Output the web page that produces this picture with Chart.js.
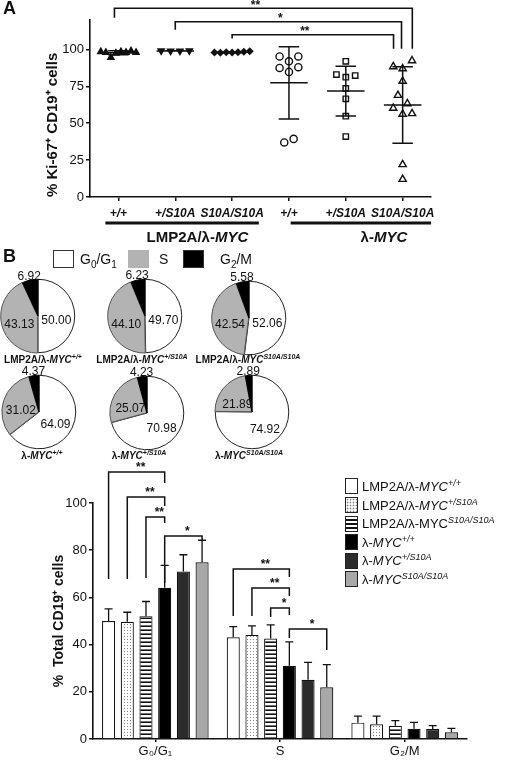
<!DOCTYPE html>
<html>
<head>
<meta charset="utf-8">
<script src="https://cdn.jsdelivr.net/npm/chart.js@4.4.0/dist/chart.umd.min.js"></script>
<style>
  body { margin: 0; background: #fff; font-family: "Liberation Sans", Arial, sans-serif; color: #111; }
  #wrap { position: relative; width: 520px; height: 761px; overflow: hidden; background: #fff; }
  canvas { position: absolute; }
  .abs { position: absolute; white-space: nowrap; }
  .panel { font-weight: bold; font-size: 18px; }
  .pielab { font-weight: bold; font-size: 10px; width: 130px; text-align: center; line-height: 12px; }
  .pielab sup { font-size: 7px; }
  .key { font-size: 14px; line-height: 17px; }
  .key .box { position: absolute; width: 19px; height: 16px; border: 1px solid #333; }
  .leg { font-size: 13px; line-height: 17px; }
  .leg .sw { display: inline-block; width: 11px; height: 14px; border: 1px solid #222; vertical-align: -3px; margin-right: 4px; }
  .leg sup { font-size: 9px; }
  .dots { background-color: #fff; background-image: radial-gradient(#777 0.7px, transparent 1.1px); background-size: 3px 3px; }
  .stripes { background-image: repeating-linear-gradient(to bottom, #fff 0 2.4px, #111 2.4px 4px); }
</style>
</head>
<body>
<div id="wrap">
  <canvas id="chartA" width="440" height="250" style="left:0;top:0"></canvas>
  <div class="abs panel" style="left:3px;top:-2px">A</div>
  <div class="abs panel" style="left:3px;top:246px">B</div>

  <div class="abs key" style="left:0;top:250px;width:300px;height:20px">
    <span class="box" style="left:53px;top:0;background:#fff"></span>
    <span class="abs" style="left:80px;top:1px">G<sub style="font-size:10px">0</sub>/G<sub style="font-size:10px">1</sub></span>
    <span class="box" style="left:128px;top:0;background:#b3b3b3;border-color:#b3b3b3"></span>
    <span class="abs" style="left:159px;top:1px">S</span>
    <span class="box" style="left:183px;top:0;background:#000"></span>
    <span class="abs" style="left:220px;top:1px">G<sub style="font-size:10px">2</sub>/M</span>
  </div>

  <canvas id="pie0" width="104" height="104" style="left:-14px;top:264px"></canvas>
  <canvas id="pie1" width="104" height="104" style="left:93px;top:264px"></canvas>
  <canvas id="pie2" width="104" height="104" style="left:197px;top:266px"></canvas>
  <canvas id="pie3" width="104" height="104" style="left:-13px;top:360px"></canvas>
  <canvas id="pie4" width="104" height="104" style="left:95px;top:361px"></canvas>
  <canvas id="pie5" width="104" height="104" style="left:200px;top:360px"></canvas>

  <div class="abs pielab" style="left:-22px;top:351px">LMP2A/λ-<i>MYC</i><sup><i>+/+</i></sup></div>
  <div class="abs pielab" style="left:77px;top:351px">LMP2A/λ-<i>MYC</i><sup><i>+/S10A</i></sup></div>
  <div class="abs pielab" style="left:183px;top:351px">LMP2A/λ-<i>MYC</i><sup><i>S10A/S10A</i></sup></div>
  <div class="abs pielab" style="left:-23px;top:447px">λ-<i>MYC</i><sup><i>+/+</i></sup></div>
  <div class="abs pielab" style="left:74px;top:447px">λ-<i>MYC</i><sup><i>+/S10A</i></sup></div>
  <div class="abs pielab" style="left:184px;top:447px">λ-<i>MYC</i><sup><i>S10A/S10A</i></sup></div>

  <canvas id="chartB" width="480" height="306" style="left:0;top:455px"></canvas>
  <div id="legendB" class="abs" style="left:345px;top:475px"></div>
</div>

<script>
// Panel A: % Ki-67+ among CD19+ cells, one array per genotype group
const groupTicks = ['+/+', '+/S10A', 'S10A/S10A', '+/+', '+/S10A', 'S10A/S10A'];
const yTicksA = [0, 25, 50, 75, 100];
const kiLmpWt = [98.5, 98, 94.6, 97.5, 98.5, 98, 99, 98];
const kiLmpHet = [99.2, 98.9, 99.0, 99.1];
const kiLmpHom = [98, 97.8, 98.2, 97.9, 98.1, 98.4, 98.8];
const kiMycWt = [95.3, 92, 95.3, 87.5, 84.8, 88, 37, 39.4];
const kiMycHet = [92, 83, 81.2, 82.3, 73.6, 66.6, 54.8, 41];
const kiMycHom = [88.4, 87, 92.4, 78.5, 69, 63.3, 60.2, 56.2, 56.6, 22, 12];
const kiSets = [kiLmpWt, kiLmpHet, kiLmpHom, kiMycWt, kiMycHet, kiMycHom];

// Panel B: cell cycle phases (mean %) and error (upper bar)
const phases = ['G₀/G₁', 'S', 'G₂/M'];
const g0g1 = [50.00, 49.70, 52.06, 64.09, 70.98, 74.92];
const sPhase = [43.13, 44.10, 42.54, 31.02, 25.07, 21.89];
const g2m = [6.92, 6.23, 5.58, 4.37, 4.23, 2.89];
const errG0 = [5.1, 4.0, 6.2, 9.5, 7.1, 9.3];
const errS = [4.5, 3.8, 5.8, 10.1, 7.4, 9.6];
const errG2 = [2.8, 3.5, 2.2, 2.7, 1.4, 1.6];
const yTicksB = [0, 20, 40, 60, 80, 100];
const genoBase = ['LMP2A/λ-', 'LMP2A/λ-', 'LMP2A/λ-', 'λ-', 'λ-', 'λ-'];
const genoAllele = ['+/+', '+/S10A', 'S10A/S10A', '+/+', '+/S10A', 'S10A/S10A'];

const fontFam = '"Liberation Sans", Arial, sans-serif';
Chart.defaults.font.family = fontFam;
Chart.defaults.color = '#111';

// spread points of similar value side by side, like a column scatter
function swarm(vals, gi) {
  const out = [];
  let i = 0;
  while (i < vals.length) {
    let j = i + 1;
    while (j < vals.length && Math.abs(vals[j] - vals[i]) <= 6) j++;
    const n = j - i;
    const step = Math.min(0.165, 0.62 / Math.max(n - 1, 1));
    for (let k = 0; k < n; k++) out.push({ x: gi + (k - (n - 1) / 2) * step, y: vals[i + k] });
    i = j;
  }
  return out;
}

const markerA = [
  { pointStyle: 'triangle', radius: 3.6, bg: '#111', rot: 0 },
  { pointStyle: 'triangle', radius: 3.6, bg: '#111', rot: 180 },
  { pointStyle: 'rectRot', radius: 3, bg: '#111', rot: 0 },
  { pointStyle: 'circle', radius: 3.6, bg: '#fff', rot: 0 },
  { pointStyle: 'rect', radius: 3.8, bg: '#fff', rot: 0 },
  { pointStyle: 'triangle', radius: 4.2, bg: '#fff', rot: 0 }
];

const bracketsA = [
  { a: -0.07, b: 5.17, top: 128, ya: 121.5, yb: 100.5, t: '**' },
  { a: 1, b: 4.98, top: 118.8, ya: 113.4, yb: 100.5, t: '*' },
  { a: 2, b: 4.84, top: 110, ya: 107.4, yb: 100.5, t: '**' }
];

function mixedText(ctx, parts, cx, y) {
  let w = 0;
  parts.forEach(p => { ctx.font = p[1]; w += ctx.measureText(p[0]).width; });
  let x = cx - w / 2;
  ctx.textAlign = 'left';
  parts.forEach(p => { ctx.font = p[1]; ctx.fillText(p[0], x, y); x += ctx.measureText(p[0]).width; });
}

const extrasA = {
  id: 'extrasA',
  afterDatasetsDraw(chart) {
    const { ctx, scales: { x, y } } = chart;
    ctx.save();
    ctx.strokeStyle = '#111';
    ctx.lineWidth = 1.5;
    kiSets.forEach((vals, gi) => {
      const m = vals.reduce((a, b) => a + b, 0) / vals.length;
      const sd = Math.sqrt(vals.reduce((a, b) => a + (b - m) ** 2, 0) / (vals.length - 1));
      const cx = x.getPixelForValue(gi);
      const hw = x.getPixelForValue(gi + 0.33) - cx;
      const cw = x.getPixelForValue(gi + 0.18) - cx;
      const yt = y.getPixelForValue(m + sd), yb = y.getPixelForValue(m - sd), ym = y.getPixelForValue(m);
      ctx.beginPath();
      ctx.moveTo(cx - hw, ym); ctx.lineTo(cx + hw, ym);
      ctx.moveTo(cx, yt); ctx.lineTo(cx, yb);
      ctx.moveTo(cx - cw, yt); ctx.lineTo(cx + cw, yt);
      ctx.moveTo(cx - cw, yb); ctx.lineTo(cx + cw, yb);
      ctx.stroke();
    });
    ctx.restore();
  },
  afterDraw(chart) {
    const { ctx, scales: { x, y } } = chart;
    ctx.save();
    ctx.strokeStyle = '#111';
    ctx.fillStyle = '#111';
    ctx.lineWidth = 1.6;
    bracketsA.forEach(b => {
      const xa = x.getPixelForValue(b.a), xb = x.getPixelForValue(b.b), yt = y.getPixelForValue(b.top);
      ctx.beginPath();
      ctx.moveTo(xa, y.getPixelForValue(b.ya));
      ctx.lineTo(xa, yt); ctx.lineTo(xb, yt);
      ctx.lineTo(xb, y.getPixelForValue(b.yb));
      ctx.stroke();
      ctx.font = 'bold 12px ' + fontFam;
      ctx.textAlign = 'center';
      ctx.textBaseline = 'bottom';
      ctx.fillText(b.t, (xa + xb) / 2 - 8, yt + 3);
    });
    // genotype group underlines and names
    const base = chart.chartArea.bottom;
    ctx.lineWidth = 3;
    ctx.beginPath();
    ctx.moveTo(x.getPixelForValue(-0.23), base + 26); ctx.lineTo(x.getPixelForValue(2.47), base + 26);
    ctx.moveTo(x.getPixelForValue(3.03), base + 26); ctx.lineTo(x.getPixelForValue(5.5), base + 26);
    ctx.stroke();
    ctx.textBaseline = 'middle';
    mixedText(ctx, [['LMP2A/λ-', 'bold 15px ' + fontFam], ['MYC', 'italic bold 15px ' + fontFam]], x.getPixelForValue(1.39), base + 41);
    mixedText(ctx, [['λ-', 'bold 15px ' + fontFam], ['MYC', 'italic bold 15px ' + fontFam]], x.getPixelForValue(4.67), base + 41);
    ctx.restore();
  }
};

new Chart(document.getElementById('chartA'), {
  type: 'scatter',
  data: {
    datasets: kiSets.map((vals, gi) => ({
      data: swarm(vals, gi),
      pointStyle: markerA[gi].pointStyle,
      pointRadius: markerA[gi].radius,
      pointRotation: markerA[gi].rot,
      pointBackgroundColor: markerA[gi].bg,
      pointBorderColor: '#111',
      pointBorderWidth: 1.4
    }))
  },
  options: {
    responsive: false,
    animation: false,
    layout: { padding: { top: 20, right: 8, left: 0, bottom: 0 } },
    plugins: { legend: { display: false }, tooltip: { enabled: false } },
    scales: {
      x: {
        type: 'linear', min: -0.5, max: 5.5,
        afterBuildTicks(s) { s.ticks = groupTicks.map((_, i) => ({ value: i })); },
        ticks: {
          autoSkip: false, maxRotation: 0, padding: 5,
          font: { size: 12, weight: 'bold', style: 'italic' },
          callback: v => groupTicks[v]
        },
        grid: { display: true, drawOnChartArea: false, tickLength: 4, color: '#111', lineWidth: 1.5 },
        border: { color: '#111', width: 1.6 },
        afterFit(s) { s.height = 53; }
      },
      y: {
        min: 0, max: 120,
        afterBuildTicks(s) { s.ticks = yTicksA.map(v => ({ value: v })); },
        ticks: { font: { size: 13 }, padding: 2 },
        grid: { display: true, drawOnChartArea: false, tickLength: 4, color: '#111', lineWidth: 1.5 },
        border: { color: '#111', width: 1.6 },
        title: { display: true, align: 'start', text: '% Ki-67⁺ CD19⁺ cells', font: { size: 15, weight: 'bold' }, padding: { top: 44, bottom: 0 } },
        afterFit(s) { s.width = 90; }
      }
    }
  },
  plugins: [extrasA]
});

// Pies
const pieLabels = {
  id: 'pieLabels',
  afterDatasetsDraw(chart) {
    const ctx = chart.ctx;
    const arcs = chart.getDatasetMeta(0).data;
    const vals = chart.data.datasets[0].data;
    ctx.save();
    ctx.font = '12px ' + fontFam;
    ctx.fillStyle = '#111';
    ctx.textAlign = 'center';
    ctx.textBaseline = 'middle';
    arcs.forEach((arc, i) => {
      const txt = vals[i].toFixed(2);
      if (i < 2) {
        const p = arc.tooltipPosition();
        ctx.fillText(txt, p.x, p.y + 5);
      } else {
        const mid = (arc.startAngle + arc.endAngle) / 2;
        const r = arc.outerRadius + 4;
        ctx.fillText(txt, arc.x + Math.cos(mid) * r, arc.y + Math.sin(mid) * r);
      }
    });
    ctx.restore();
  }
};

for (let i = 0; i < 6; i++) {
  new Chart(document.getElementById('pie' + i), {
    type: 'pie',
    data: {
      labels: ['G0/G1', 'S', 'G2/M'],
      datasets: [{
        data: [g0g1[i], sPhase[i], g2m[i]],
        backgroundColor: ['#fff', '#b3b3b3', '#000'],
        borderColor: ['#222', '#555', '#000'],
        borderWidth: 1,
        offset: [0, 1.5, 0]
      }]
    },
    options: {
      responsive: false,
      animation: false,
      layout: { padding: 14 },
      plugins: { legend: { display: false }, tooltip: { enabled: false } }
    },
    plugins: [pieLabels]
  });
}

// Panel B bars
function makePattern(kind) {
  const c = document.createElement('canvas');
  const g = c.getContext('2d');
  if (kind === 'dots') {
    c.width = 3; c.height = 3;
    g.fillStyle = '#fff'; g.fillRect(0, 0, 3, 3);
    g.fillStyle = '#888'; g.fillRect(1, 1, 1, 1);
  } else {
    c.width = 4; c.height = 4;
    g.fillStyle = '#fff'; g.fillRect(0, 0, 4, 4);
    g.fillStyle = '#111'; g.fillRect(0, 2.4, 4, 1.6);
  }
  return g.createPattern(c, 'repeat');
}
const barFills = ['#fff', makePattern('dots'), makePattern('stripes'), '#000', '#2b2b2b', '#a8a8a8'];
const errSets = g0g1.map((_, i) => [errG0[i], errS[i], errG2[i]]);

const bracketsB = [
  { cat: 0, a: 0, b: 3, top: 113.1, ya: 67.8, yb: 108.5, t: '**' },
  { cat: 0, a: 1, b: 3, top: 102.5, ya: 67.8, yb: 98.7, t: '**' },
  { cat: 0, a: 2, b: 3, top: 94.1, ya: 68.2, yb: 91.5, t: '**' },
  { cat: 0, a: 3, b: 5, top: 86, ya: 66.1, yb: 84.3, t: '*' },
  { cat: 1, a: 0, b: 3, top: 72, ya: 52.1, yb: 68.6, t: '**' },
  { cat: 1, a: 1, b: 3, top: 64, ya: 52.1, yb: 60.6, t: '**' },
  { cat: 1, a: 2, b: 3, top: 55.5, ya: 51.7, yb: 52.5, t: '*' },
  { cat: 1, a: 3, b: 5, top: 46.6, ya: 42.8, yb: 37.7, t: '*' }
];

const extrasB = {
  id: 'extrasB',
  afterDatasetsDraw(chart) {
    const { ctx, scales: { y } } = chart;
    ctx.save();
    ctx.strokeStyle = '#111';
    ctx.lineWidth = 1.3;
    chart.data.datasets.forEach((ds, i) => {
      chart.getDatasetMeta(i).data.forEach((bar, j) => {
        const top = y.getPixelForValue(ds.data[j] + errSets[i][j]);
        ctx.beginPath();
        ctx.moveTo(bar.x, bar.y); ctx.lineTo(bar.x, top);
        ctx.moveTo(bar.x - 4, top); ctx.lineTo(bar.x + 4, top);
        ctx.stroke();
      });
    });
    ctx.restore();
  },
  afterDraw(chart) {
    const { ctx, scales: { y } } = chart;
    ctx.save();
    ctx.strokeStyle = '#111';
    ctx.fillStyle = '#111';
    ctx.lineWidth = 1.5;
    ctx.font = 'bold 12px ' + fontFam;
    ctx.textAlign = 'center';
    ctx.textBaseline = 'bottom';
    bracketsB.forEach(b => {
      const xa = chart.getDatasetMeta(b.a).data[b.cat].x;
      const xb = chart.getDatasetMeta(b.b).data[b.cat].x;
      const yt = y.getPixelForValue(b.top);
      ctx.beginPath();
      ctx.moveTo(xa, y.getPixelForValue(b.ya));
      ctx.lineTo(xa, yt); ctx.lineTo(xb, yt);
      ctx.lineTo(xb, y.getPixelForValue(b.yb));
      ctx.stroke();
      ctx.fillText(b.t, (xa + xb) / 2 + 4, yt + 2);
    });
    ctx.restore();
  }
};

new Chart(document.getElementById('chartB'), {
  type: 'bar',
  data: {
    labels: phases,
    datasets: g0g1.map((_, i) => ({
      label: genoBase[i] + 'MYC' + genoAllele[i],
      data: [g0g1[i], sPhase[i], g2m[i]],
      backgroundColor: barFills[i],
      borderColor: '#111',
      borderWidth: 1.2,
      categoryPercentage: 0.9,
      barPercentage: 0.7
    }))
  },
  options: {
    responsive: false,
    animation: false,
    layout: { padding: { top: 48, right: 13, left: 0, bottom: 0 } },
    plugins: { legend: { display: false }, tooltip: { enabled: false } },
    scales: {
      x: {
        ticks: { font: { size: 13 }, padding: 2, maxRotation: 0 },
        grid: { display: true, offset: false, drawOnChartArea: false, tickLength: 3, color: '#111', lineWidth: 1.5 },
        border: { color: '#111', width: 1.6 },
        afterFit(s) { s.height = 22; }
      },
      y: {
        min: 0, max: 100,
        afterBuildTicks(s) { s.ticks = yTicksB.map(v => ({ value: v })); },
        ticks: { font: { size: 13 }, padding: 2 },
        grid: { display: true, drawOnChartArea: false, tickLength: 4, color: '#111', lineWidth: 1.5 },
        border: { color: '#111', width: 1.6 },
        title: { display: true, text: '%  Total CD19⁺ cells', font: { size: 14, weight: 'bold' }, padding: { top: 51, bottom: 0 } },
        afterFit(s) { s.width = 93; }
      }
    }
  },
  plugins: [extrasB]
});

// genotype legend for panel B
const swatchClass = ['', 'dots', 'stripes', '', '', ''];
const swatchBg = ['#fff', '', '', '#000', '#2b2b2b', '#a8a8a8'];
const legendB = document.getElementById('legendB');
genoBase.forEach((base, i) => {
  const row = document.createElement('div');
  row.className = 'leg';
  row.style.height = '18.6px';
  const myc = i === 2 ? 'MYC' : '<i>MYC</i>';
  row.innerHTML = '<span class="sw ' + swatchClass[i] + '" style="' + (swatchBg[i] ? 'background:' + swatchBg[i] : '') + '"></span>' +
    base + myc + '<sup><i>' + genoAllele[i] + '</i></sup>';
  legendB.appendChild(row);
});
</script>
</body>
</html>
